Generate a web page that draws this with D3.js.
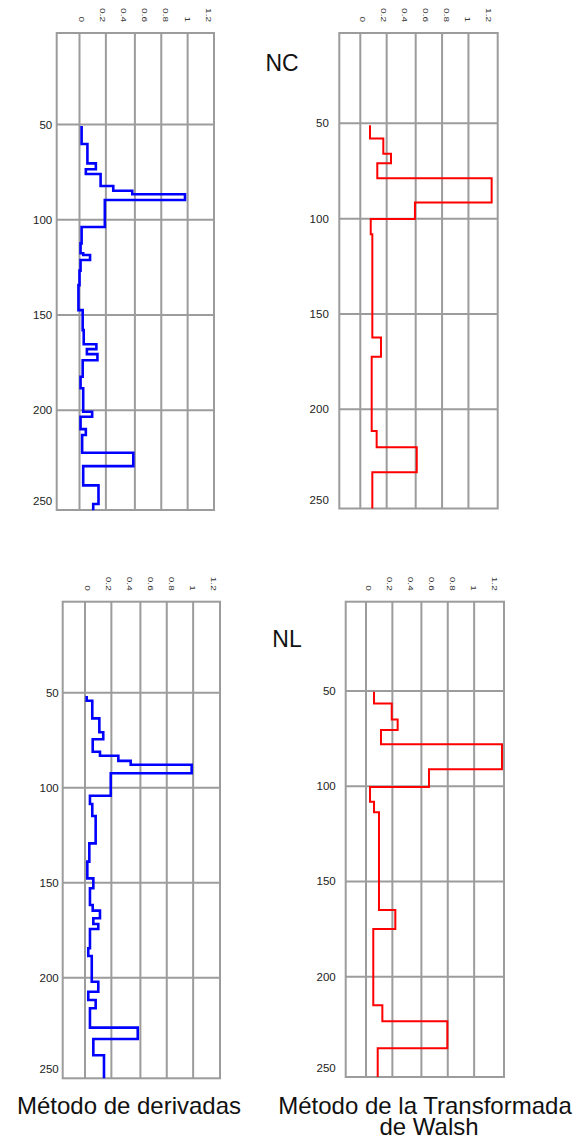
<!DOCTYPE html>
<html><head><meta charset="utf-8">
<script src="https://cdn.jsdelivr.net/npm/d3@7"></script>
<style>html,body{margin:0;padding:0;background:#fff;}svg{display:block;font-family:"Liberation Sans",Arial,sans-serif;}</style>
</head><body>
<script>
// ---- data ----
const xTickValues = [0, 0.2, 0.4, 0.6, 0.8, 1, 1.2];
const xTickLabels = ["0", "0.2", "0.4", "0.6", "0.8", "1", "1.2"];
const xGridValues = [0, 0.25, 0.525, 0.775, 1.025];
const yTickValues = [50, 100, 150, 200, 250];
const yGridValues = [50, 100, 150, 200];

// NC - Método de derivadas
const ncDerivDepth = [50.8, 60.2, 70.4, 73.5, 76.0, 82.3, 84.8, 86.6, 89.6, 103.8, 112.4, 117.6, 118.5, 121.1, 126.7, 134.3, 147.4, 157.9, 165.3, 167.9, 170.5, 173.7, 182.4, 188.4, 200.8, 203.4, 209.9, 213.0, 222.3, 229.3, 239.4, 249.2, 252.4];
const ncDerivValue = [0.02, 0.075, 0.155, 0.06, 0.2, 0.32, 0.5, 1.0, 0.24, 0.02, 0.01, 0.035, 0.1, 0.01, 0.0, -0.01, 0.03, 0.04, 0.16, 0.07, 0.17, 0.03, 0.01, 0.035, 0.12, 0.01, 0.06, 0.025, 0.51, 0.035, 0.18, 0.13];

// NC - Método de la Transformada de Walsh
const ncWalshDepth = [51, 58, 66, 71, 78.8, 91.6, 100.2, 108.2, 162.4, 172.4, 211.4, 219.9, 233, 252];
const ncWalshValue = [0.092, 0.218, 0.291, 0.161, 1.245, 0.518, 0.099, 0.114, 0.196, 0.108, 0.155, 0.535, 0.114];

// NL - Método de derivadas
const nlDerivDepth = [51.7, 54.2, 63.5, 70.8, 74.5, 81.1, 83.2, 85.9, 87.9, 92.4, 104.2, 108.6, 114.9, 129.3, 138.9, 147.7, 152.9, 161.7, 164.7, 168.7, 171.7, 174.4, 184.5, 188.6, 202.1, 207.4, 211.7, 216.1, 226.3, 232.3, 240.8, 252.9];
const nlDerivValue = [0.016, 0.069, 0.136, 0.173, 0.073, 0.142, 0.316, 0.433, 1.011, 0.244, 0.047, 0.069, 0.101, 0.041, 0.022, 0.079, 0.047, 0.073, 0.142, 0.079, 0.126, 0.047, 0.031, 0.064, 0.126, 0.031, 0.101, 0.047, 0.5, 0.079, 0.18];

// NL - Método de la Transformada de Walsh
const nlWalshDepth = [50.4, 56.5, 64.9, 70.5, 78.0, 91.1, 100.4, 108.1, 113.7, 165.0, 175.0, 215.0, 223.4, 237.6, 252.7];
const nlWalshValue = [0.076, 0.244, 0.3, 0.142, 1.289, 0.597, 0.038, 0.076, 0.123, 0.278, 0.069, 0.155, 0.771, 0.111];

const titles = ["NC", "NL"];
const methodLabels = ["Método de derivadas", ["Método de la Transformada", "de Walsh"]];

// ---- layout ----
const W = 581, H = 1140;
const PX_PER_UNIT = 105.5;
const panels = [
  {depth: ncDerivDepth, value: ncDerivValue, color: "#0000ff", sw: 2.6, left: 56.7, right: 214, top: 33, bottom: 510, x0: 79.5, y50: 124.5, y200: 410.3, gap: 4.5},
  {depth: ncWalshDepth, value: ncWalshValue, color: "#ff0000", sw: 2, left: 339.3, right: 497.7, top: 33, bottom: 508.5, x0: 360.3, y50: 123.3, y200: 409.3, gap: 10.5},
  {depth: nlDerivDepth, value: nlDerivValue, color: "#0000ff", sw: 2.6, left: 62.7, right: 220, top: 601.7, bottom: 1078.3, x0: 85, y50: 692.7, y200: 977.7, gap: 4},
  {depth: nlWalshDepth, value: nlWalshValue, color: "#ff0000", sw: 2, left: 345.7, right: 504, top: 601.7, bottom: 1077, x0: 366, y50: 691, y200: 976.7, gap: 10}
];
const GRID = "#9c9c9c";

const svg = d3.select("body").append("svg").attr("width", W).attr("height", H);

panels.forEach(p => {
  const x = d3.scaleLinear().domain([0, 1]).range([p.x0, p.x0 + PX_PER_UNIT]);
  const y = d3.scaleLinear().domain([50, 200]).range([p.y50, p.y200]);
  const g = svg.append("g");

  // vertical grid
  g.selectAll("line.vx").data(xGridValues).join("line")
    .attr("x1", d => x(d)).attr("x2", d => x(d))
    .attr("y1", p.top).attr("y2", p.bottom)
    .attr("stroke", GRID).attr("stroke-width", 2);
  // horizontal grid
  g.selectAll("line.hy").data(yGridValues).join("line")
    .attr("x1", p.left).attr("x2", p.right)
    .attr("y1", d => y(d)).attr("y2", d => y(d))
    .attr("stroke", GRID).attr("stroke-width", 2);
  // frame
  g.append("rect").attr("x", p.left).attr("y", p.top)
    .attr("width", p.right - p.left).attr("height", p.bottom - p.top)
    .attr("fill", "none").attr("stroke", GRID).attr("stroke-width", 2);

  // x tick labels (rotated)
  g.selectAll("text.xt").data(xTickValues).join("text")
    .attr("transform", d => `translate(${x(d) + 2},${p.top - 11}) rotate(90) scale(1,0.7)`)
    .attr("text-anchor", "end").attr("dominant-baseline", "central")
    .attr("font-size", 10).attr("fill", "#333")
    .text((d, i) => xTickLabels[i]);

  // y tick labels
  g.selectAll("text.yt").data(yTickValues).join("text")
    .attr("x", p.left - p.gap)
    .attr("y", d => Math.min(y(d), p.bottom - 9))
    .attr("text-anchor", "end").attr("dominant-baseline", "central")
    .attr("font-size", 11.5).attr("fill", "#222")
    .text(d => d);

  // step profile
  const pts = [];
  p.value.forEach((v, i) => {
    pts.push([v, p.depth[i]]);
    pts.push([v, p.depth[i + 1]]);
  });
  const line = d3.line().x(d => x(d[0])).y(d => y(d[1]));
  g.append("path").datum(pts).attr("d", line)
    .attr("fill", "none").attr("stroke", p.color).attr("stroke-width", p.sw)
    .attr("stroke-linejoin", "miter");
});

// titles
svg.append("text").attr("x", 282).attr("y", 70.7).attr("text-anchor", "middle")
  .attr("font-size", 23).attr("fill", "#111").text(titles[0]);
svg.append("text").attr("x", 287).attr("y", 647).attr("text-anchor", "middle")
  .attr("font-size", 23).attr("fill", "#111").text(titles[1]);

// method labels
svg.append("text").attr("x", 129).attr("y", 1113.7).attr("text-anchor", "middle")
  .attr("font-size", 24).attr("fill", "#111").text(methodLabels[0]);
const t2 = svg.append("text").attr("text-anchor", "middle").attr("font-size", 24).attr("fill", "#111");
t2.append("tspan").attr("x", 425).attr("y", 1114.3).text(methodLabels[1][0]);
t2.append("tspan").attr("x", 429).attr("y", 1135).text(methodLabels[1][1]);
</script>
</body></html>
